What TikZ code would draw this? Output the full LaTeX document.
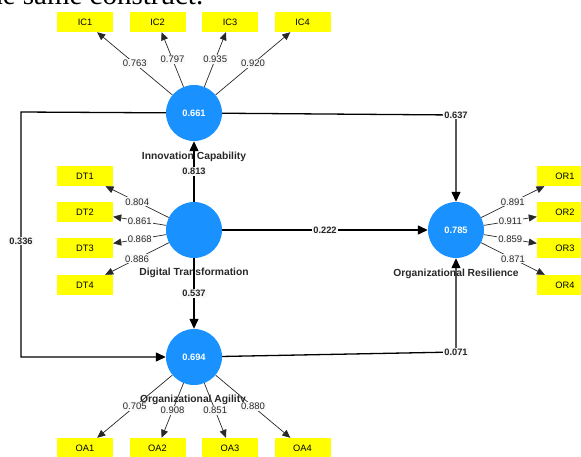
\documentclass[tikz,border=0pt]{standalone}
\usepackage{fontspec}
\setmainfont{Liberation Sans}
\newfontfamily\serifdoc{Liberation Serif}
\usetikzlibrary{arrows.meta}
\definecolor{lvblue}{RGB}{25,145,255}
\definecolor{indyellow}{RGB}{255,255,0}
\definecolor{txtgray}{RGB}{40,40,40}
\definecolor{labbg}{RGB}{248,248,248}
\begin{document}
\begin{tikzpicture}[x=1pt,y=-1pt,
  lv/.style={circle,fill=lvblue,minimum size=56pt,inner sep=0pt,text=white,font=\fontsize{9.3}{10}\selectfont\bfseries},
  ind/.style={rectangle,fill=indyellow,minimum width=56pt,minimum height=20pt,inner sep=0pt,font=\fontsize{9.3}{10}\selectfont},
  lvname/.style={font=\fontsize{10.3}{12}\selectfont\bfseries,text=txtgray,inner sep=0pt},
  load/.style={draw=txtgray,line width=0.7pt,-{Triangle[length=8pt,width=7pt]}},
  loadlab/.style={fill=labbg,inner sep=1pt,font=\fontsize{9.5}{10}\selectfont,text=txtgray},
  struct/.style={draw=black,line width=1.3pt},
  structarrow/.style={struct,-{Triangle[length=10pt,width=9pt]}},
  coef/.style={fill=labbg,inner sep=1pt,font=\fontsize{9.3}{10}\selectfont\bfseries,text=black!85}
]
\useasboundingbox (0,0) rectangle (581,456);
\begin{scope}
\clip (0,0) rectangle (581,456);
% header text of the page, cut at the top
\node[anchor=base west,font=\serifdoc\fontsize{29}{30}\selectfont,inner sep=0pt] (hdr) at (-20,4) {the same construct.};

% latent variables
\node[lv] (IC) at (194,113) {0.661};
\node[lv] (DT) at (194,230) {};
\node[lv] (OR) at (456,230) {0.785};
\node[lv] (OA) at (194,357) {0.694};

% latent variable names
\node[lvname] (nIC) at (194,157) {Innovation Capability};
\node[lvname] (nDT) at (194,273) {Digital Transformation};
\node[lvname] (nOR) at (456,274) {Organizational Resilience};
\node[lvname] (nOA) at (193,400) {Organizational Agility};

% indicators
\node[ind] (IC1) at (85,22) {IC1};
\node[ind] (IC2) at (157.5,22) {IC2};
\node[ind] (IC3) at (230,22) {IC3};
\node[ind] (IC4) at (302.5,22) {IC4};
\node[ind] (DT1) at (85,176) {DT1};
\node[ind] (DT2) at (85,212) {DT2};
\node[ind] (DT3) at (85,248) {DT3};
\node[ind] (DT4) at (85,285) {DT4};
\node[ind] (OR1) at (565,176) {OR1};
\node[ind] (OR2) at (565,212) {OR2};
\node[ind] (OR3) at (565,248) {OR3};
\node[ind] (OR4) at (565,285) {OR4};
\node[ind] (OA1) at (85,448) {OA1};
\node[ind] (OA2) at (157.5,448) {OA2};
\node[ind] (OA3) at (230,448) {OA3};
\node[ind] (OA4) at (302.5,448) {OA4};

% bend points
\coordinate (b1) at (456,115);
\coordinate (b2) at (456,352);
\coordinate (b3) at (21,112);
\coordinate (b4) at (21,357);

% structural paths
\draw[structarrow] (DT) -- node[coef] {0.813} (IC);
\draw[structarrow] (DT) -- node[coef] {0.222} (OR);
\draw[structarrow] (DT) -- node[coef] {0.537} (OA);
\draw[structarrow] (IC) -- (b1) -- (OR);
\draw[structarrow] (OA) -- (b2) -- (OR);
\draw[structarrow] (IC) -- (b3) -- (b4) -- (OA);
\node[coef] (c637) at (b1) {0.637};
\node[coef] (c071) at (b2) {0.071};
\node[coef] (c336) at (21,241) {0.336};

% outer loadings
\draw[load] (IC) -- node[loadlab] {0.763} (IC1);
\draw[load] (IC) -- node[loadlab] {0.797} (IC2);
\draw[load] (IC) -- node[loadlab] {0.935} (IC3);
\draw[load] (IC) -- node[loadlab] {0.920} (IC4);
\draw[load] (DT) -- node[loadlab] {0.804} (DT1);
\draw[load] (DT) -- node[loadlab] {0.861} (DT2);
\draw[load] (DT) -- node[loadlab] {0.868} (DT3);
\draw[load] (DT) -- node[loadlab] {0.886} (DT4);
\draw[load] (OR) -- node[loadlab] {0.891} (OR1);
\draw[load] (OR) -- node[loadlab] {0.911} (OR2);
\draw[load] (OR) -- node[loadlab] {0.859} (OR3);
\draw[load] (OR) -- node[loadlab] {0.871} (OR4);
\draw[load] (OA) -- node[loadlab] {0.705} (OA1);
\draw[load] (OA) -- node[loadlab] {0.908} (OA2);
\draw[load] (OA) -- node[loadlab] {0.851} (OA3);
\draw[load] (OA) -- node[loadlab] {0.880} (OA4);
\end{scope}
\end{tikzpicture}
\end{document}
